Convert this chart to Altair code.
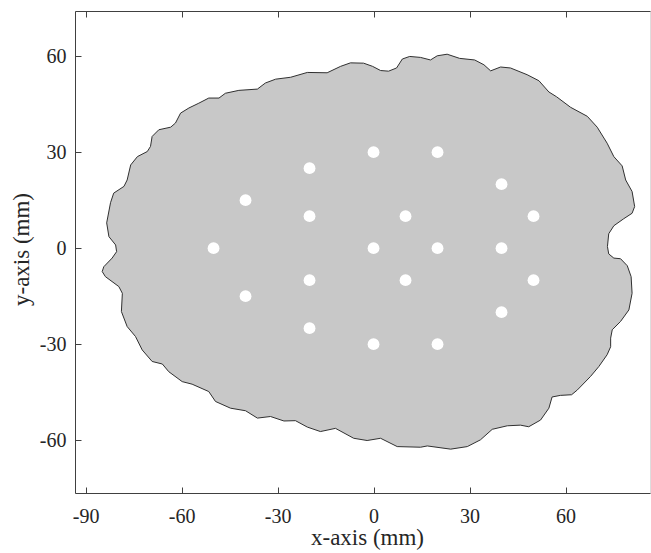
import altair as alt
import pandas as pd

# Outline of the gray region (mm), traced clockwise from the leftmost point
boundary_x = [-84.8, -84.3, -81.7, -80.3, -80.6, -82.7, -83.4, -82.2, -81.2, -78.0,
              -77.0, -75.9, -73.8, -70.7, -69.7, -69.2, -67.1, -63.4, -61.9, -60.3,
              -57.7, -54.6, -51.5, -48.3, -46.3, -42.1, -36.3, -33.8, -30.6, -25.9,
              -20.7, -14.5, -10.3, -7.2, -3.1, -0.3, 2.2, 4.7, 7.2, 9.0,
              11.3, 14.7, 17.8, 19.9, 23.0, 26.9, 31.6, 34.5, 36.6, 39.7,
              42.8, 48.0, 51.7, 54.8, 57.2, 61.6, 66.8, 69.9, 72.0, 73.0,
              75.1, 77.7, 78.8, 80.8, 81.6, 80.8, 78.2, 75.1, 73.5, 73.1,
              73.5, 75.1, 77.2, 79.3, 80.5, 80.8, 79.8, 77.2, 74.6, 74.1,
              74.1, 73.0, 70.4, 67.8, 63.7, 61.9, 58.4, 55.8, 54.8, 52.2,
              48.5, 45.9, 41.8, 37.1, 33.4, 29.3, 24.1, 16.8, 14.7, 7.4,
              2.2, -2.0, -6.2, -11.9, -16.6, -20.7, -24.4, -28.0, -32.2, -36.3,
              -40.0, -44.7, -49.4, -51.5, -56.7, -59.8, -64.0, -66.0, -69.2, -72.3,
              -74.4, -77.0, -78.8, -78.5, -79.6, -83.8]
boundary_y = [-7.3, -5.8, -3.1, -1.1, 1.0, 3.6, 7.9, 14.2, 17.2, 19.3,
              21.3, 26.0, 28.6, 30.2, 31.8, 34.9, 37.0, 37.8, 39.1, 42.2,
              43.8, 45.3, 46.9, 46.9, 48.4, 49.3, 49.7, 51.6, 52.8, 53.4,
              54.9, 54.8, 56.8, 57.9, 57.8, 56.8, 55.5, 55.3, 56.3, 59.1,
              59.9, 59.6, 58.8, 60.1, 60.6, 59.3, 58.8, 57.3, 55.4, 56.6,
              56.3, 54.2, 52.3, 48.8, 47.3, 44.0, 41.2, 37.8, 34.4, 32.8,
              28.6, 25.7, 21.3, 17.7, 13.0, 10.9, 9.2, 7.0, 4.5, 0.5,
              -1.8, -3.1, -3.3, -5.5, -8.9, -14.1, -19.3, -22.9, -25.5, -28.1,
              -30.8, -33.3, -37.0, -40.1, -44.3, -45.8, -46.0, -46.5, -50.0, -53.7,
              -55.8, -55.3, -55.5, -56.6, -59.9, -62.0, -62.8, -61.8, -62.2, -62.0,
              -59.4, -60.1, -59.4, -56.3, -57.3, -55.9, -53.9, -54.0, -52.6, -53.1,
              -50.8, -50.0, -47.9, -44.8, -42.5, -41.7, -38.6, -36.2, -35.4, -31.8,
              -27.6, -24.5, -19.8, -14.1, -12.0, -8.9]

# White holes (mm)
hole_x = [-50, -40, -40, -20, -20, -20, -20, 0, 0, 0, 10, 10, 20, 20, 20, 40, 40, 40, 50, 50]
hole_y = [0, 15, -15, 25, 10, -10, -25, 30, 0, -30, 10, -10, 30, 0, -30, 20, 0, -20, 10, -10]

x_ticks = [-90, -60, -30, 0, 30, 60]
y_ticks = [-60, -30, 0, 30, 60]
x_domain = [-93.3, 86.4]
y_domain = [-76.5, 74.1]

n = len(boundary_x)
shape_df = pd.DataFrame({
    "x": boundary_x + [boundary_x[0]],
    "y": boundary_y + [boundary_y[0]],
    "order": list(range(n + 1)),
})
holes_df = pd.DataFrame({"x": hole_x, "y": hole_y})

FONT = "Liberation Serif"
AX = "#404040"
TXT = "#262626"

xscale = alt.Scale(domain=x_domain, nice=False, zero=False)
yscale = alt.Scale(domain=y_domain, nice=False, zero=False)

y_axis = alt.Axis(values=y_ticks, title="y-axis (mm)", grid=False,
                  labelExpr="'' + datum.value",
                  tickSize={"expr": "-6"}, labelPadding=15, tickColor=AX,
                  domainColor=AX, labelFont=FONT, labelFontSize=20, labelColor=TXT,
                  titleFont=FONT, titleFontSize=23, titleFontWeight="normal",
                  titleColor=TXT, titleX=-42, titleY=238)

x_axis_bottom = alt.Axis(orient="bottom", values=x_ticks, title="x-axis (mm)",
                         labelExpr="'' + datum.value",
                         grid=False, tickSize={"expr": "-6"}, labelPadding=19,
                         tickColor=AX, domainColor=AX, labelFont=FONT,
                         labelFontSize=20, labelColor=TXT, titleFont=FONT,
                         titleFontSize=23, titleFontWeight="normal",
                         titleColor=TXT, titleX=292, titleY=33)

x_axis_top = alt.Axis(orient="top", values=x_ticks, title=None, labels=False,
                      grid=False, tickSize={"expr": "-6"}, tickColor=AX,
                      domainColor=AX)

blob = alt.Chart(shape_df).mark_line(
    fill="#c8c8c8", stroke="#303030", strokeWidth=1, interpolate="linear"
).encode(
    x=alt.X("x:Q", scale=xscale, axis=x_axis_bottom),
    y=alt.Y("y:Q", scale=yscale, axis=y_axis),
    order="order:Q",
)

dots = alt.Chart(holes_df).mark_circle(
    size=140, color="white", opacity=1
).encode(
    x=alt.X("x:Q", scale=xscale, axis=x_axis_top),
    y=alt.Y("y:Q", scale=yscale, axis=y_axis),
)

chart = alt.layer(blob, dots).resolve_axis(x="independent").properties(
    width=575,
    height=482,
    autosize=alt.AutoSizeParams(type="none"),
    padding={"left": 75, "top": 11, "right": 1, "bottom": 60},
).configure_view(stroke=None).configure(background="white")

chart.save("out.html", embed_options={"renderer": "svg", "actions": False})
